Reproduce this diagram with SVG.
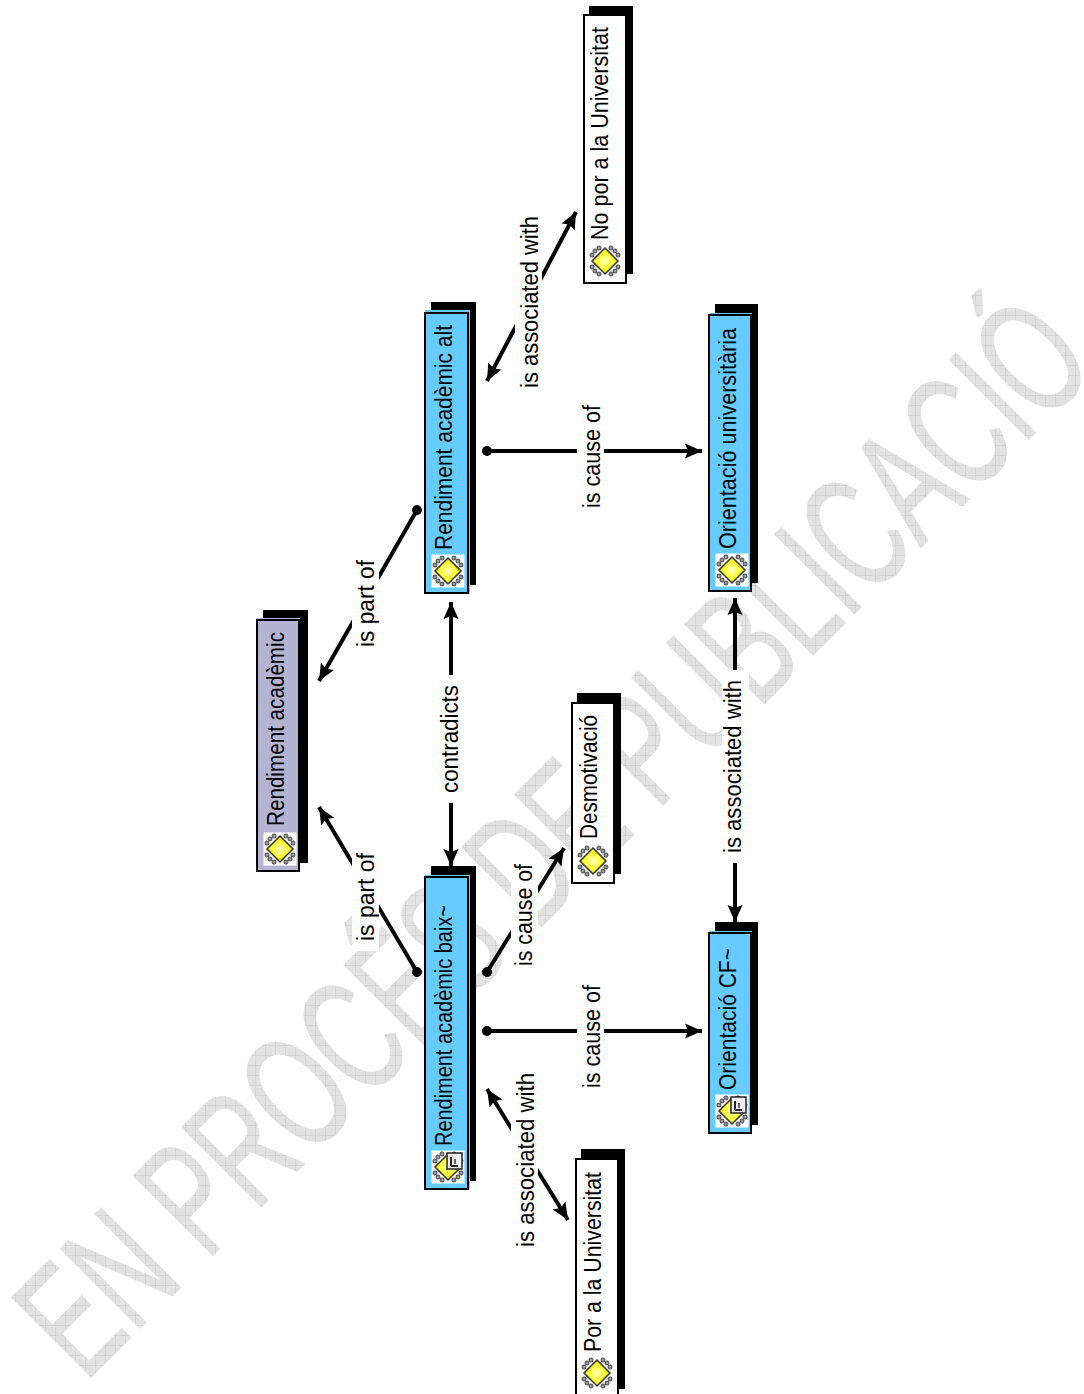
<svg xmlns="http://www.w3.org/2000/svg" width="1084" height="1394" viewBox="0 0 1084 1394">
<style>
text{font-family:"Liberation Sans",Arial,sans-serif}
.t{font-size:23px;fill:#000}
.l{font-size:23px;fill:#000}
.c{stroke:#000;stroke-width:4;fill:none}
.s{fill:#000}
.b{stroke:#000;stroke-width:2}
</style>
<defs>
<pattern id="gr" width="10" height="10" patternUnits="userSpaceOnUse" patternTransform="rotate(45) translate(-90 -1378)"><rect width="10" height="10" fill="#e2e2e2"/><path d="M0 0H10M0 0V10" stroke="#c8c8c8" stroke-width="1"/></pattern>
<radialGradient id="yl"><stop offset="0" stop-color="#ffffc0"/><stop offset="0.6" stop-color="#ffff30"/><stop offset="1" stop-color="#e4e410"/></radialGradient>
<marker id="a" markerWidth="20" markerHeight="18" refX="17" refY="9" orient="auto-start-reverse" markerUnits="userSpaceOnUse"><path d="M0 1.500L17 9L0 16.500L3 9Z" fill="#000"/></marker>
<marker id="d" markerWidth="10" markerHeight="10" refX="5" refY="5" orient="auto" markerUnits="userSpaceOnUse"><circle cx="5" cy="5" r="5" fill="#000"/></marker>
<g id="ic"><rect x="-16.500" y="-16.500" width="33" height="33" fill="#fff"/><g fill="#999" stroke="#444" stroke-width="1"><circle cx="-13" cy="-6" r="2"/><circle cx="-10" cy="-10" r="2"/><circle cx="-6" cy="-13" r="2"/><circle cx="13" cy="-6" r="2"/><circle cx="10" cy="-10" r="2"/><circle cx="6" cy="-13" r="2"/><circle cx="-13" cy="6" r="2"/><circle cx="-10" cy="10" r="2"/><circle cx="-6" cy="13" r="2"/><circle cx="13" cy="6" r="2"/><circle cx="10" cy="10" r="2"/><circle cx="6" cy="13" r="2"/></g><path d="M0 -13L13 0L0 13L-13 0Z" fill="url(#yl)" stroke="#333" stroke-width="1.500"/></g>
<g id="ic2"><use href="#ic"/><rect x="-1" y="-14" width="15" height="16" fill="#eee" stroke="#222" stroke-width="1.500"/><path d="M3 -1V-10M3 -1H10" stroke="#222" stroke-width="2" fill="none"/><path d="M7 -3V-8" stroke="#666" stroke-width="2"/></g>
</defs>
<text id="watermark" transform="translate(85 1383) rotate(-45)" font-size="163" textLength="1434" lengthAdjust="spacingAndGlyphs" fill="url(#gr)" stroke="url(#gr)" stroke-width="1.5">EN PROCÉS DE PUBLICACIÓ</text>
<g id="connectors">
<line class="c" x1="417" y1="510" x2="319" y2="681" marker-start="url(#d)" marker-end="url(#a)"/>
<line class="c" x1="417" y1="972" x2="319" y2="807" marker-start="url(#d)" marker-end="url(#a)"/>
<line class="c" x1="451" y1="602" x2="451" y2="866" marker-start="url(#a)" marker-end="url(#a)"/>
<line class="c" x1="487" y1="451" x2="702" y2="451" marker-start="url(#d)" marker-end="url(#a)"/>
<line class="c" x1="487" y1="1031" x2="702" y2="1031" marker-start="url(#d)" marker-end="url(#a)"/>
<line class="c" x1="487" y1="381" x2="576" y2="212" marker-start="url(#a)" marker-end="url(#a)"/>
<line class="c" x1="487" y1="972" x2="564" y2="848" marker-start="url(#d)" marker-end="url(#a)"/>
<line class="c" x1="487" y1="1089" x2="568" y2="1220" marker-start="url(#a)" marker-end="url(#a)"/>
<line class="c" x1="735" y1="598" x2="735" y2="922" marker-start="url(#a)" marker-end="url(#a)"/>
</g>
<g id="labels">
<g fill="#fff"><rect x="352" y="550" width="27" height="107"/><rect x="352" y="843" width="27" height="108"/><rect x="438" y="675" width="27" height="128"/><rect x="577" y="395" width="27" height="123"/><rect x="577" y="975" width="27" height="123"/><rect x="515" y="206" width="27" height="192"/><rect x="511" y="854" width="27" height="122"/><rect x="511" y="1063" width="27" height="194"/><rect x="722" y="670" width="27" height="193"/></g>
<text class="l" textLength="87" lengthAdjust="spacingAndGlyphs" transform="translate(374 647) rotate(-90)">is part of</text>
<text class="l" textLength="88" lengthAdjust="spacingAndGlyphs" transform="translate(374 941) rotate(-90)">is part of</text>
<text class="l" textLength="108" lengthAdjust="spacingAndGlyphs" transform="translate(458 793) rotate(-90)">contradicts</text>
<text class="l" textLength="103" lengthAdjust="spacingAndGlyphs" transform="translate(600 508) rotate(-90)">is cause of</text>
<text class="l" textLength="103" lengthAdjust="spacingAndGlyphs" transform="translate(600 1088) rotate(-90)">is cause of</text>
<text class="l" textLength="172" lengthAdjust="spacingAndGlyphs" transform="translate(538 388) rotate(-90)">is associated with</text>
<text class="l" textLength="102" lengthAdjust="spacingAndGlyphs" transform="translate(532 966) rotate(-90)">is cause of</text>
<text class="l" textLength="174" lengthAdjust="spacingAndGlyphs" transform="translate(534 1247) rotate(-90)">is associated with</text>
<text class="l" textLength="173" lengthAdjust="spacingAndGlyphs" transform="translate(741 853) rotate(-90)">is associated with</text>
</g>
<g id="n1"><rect class="s" x="263" y="610" width="45" height="253"/><rect x="257" y="618" width="43" height="254" fill="#b4b4d2"/><rect x="257" y="620" width="42" height="251" fill="none" class="b"/><use href="#ic" x="280" y="849"/><text class="t" textLength="194" lengthAdjust="spacingAndGlyphs" transform="translate(284 826) rotate(-90)">Rendiment acadèmic</text></g>
<g id="n2"><rect class="s" x="431" y="302" width="45" height="283"/><rect x="425" y="310" width="45" height="284" fill="#66ccff"/><rect x="425" y="313" width="43" height="280" fill="none" class="b"/><use href="#ic" x="448" y="571"/><text class="t" textLength="225" lengthAdjust="spacingAndGlyphs" transform="translate(452 550) rotate(-90)">Rendiment acadèmic alt</text></g>
<g id="n3"><rect class="s" x="431" y="866" width="45" height="315"/><rect x="425" y="875" width="45" height="315" fill="#66ccff"/><rect x="425" y="877" width="43" height="312" fill="none" class="b"/><use href="#ic2" x="448" y="1167"/><text class="t" textLength="241" lengthAdjust="spacingAndGlyphs" transform="translate(452 1146) rotate(-90)">Rendiment acadèmic baix~</text></g>
<g id="n4"><rect class="s" x="715" y="304" width="43" height="279"/><rect x="709" y="313" width="43" height="279" fill="#66ccff"/><rect x="709" y="315" width="42" height="276" fill="none" class="b"/><use href="#ic" x="732" y="570"/><text class="t" textLength="221" lengthAdjust="spacingAndGlyphs" transform="translate(736 549) rotate(-90)">Orientació universitària</text></g>
<g id="n5"><rect class="s" x="715" y="922" width="43" height="203"/><rect x="709" y="931" width="43" height="203" fill="#66ccff"/><rect x="709" y="933" width="42" height="200" fill="none" class="b"/><use href="#ic2" x="732" y="1111"/><text class="t" textLength="142" lengthAdjust="spacingAndGlyphs" transform="translate(736 1090) rotate(-90)">Orientació CF~</text></g>
<g id="n6"><rect class="s" x="589" y="6" width="44" height="268"/><rect x="584" y="15" width="42" height="268" fill="#fff" class="b"/><use href="#ic" x="605" y="261"/><text class="t" textLength="213" lengthAdjust="spacingAndGlyphs" transform="translate(608 240) rotate(-90)">No por a la Universitat</text></g>
<g id="n7"><rect class="s" x="577" y="693" width="44" height="181"/><rect x="572" y="703" width="42" height="180" fill="#fff" class="b"/><use href="#ic" x="593" y="861"/><text class="t" textLength="124" lengthAdjust="spacingAndGlyphs" transform="translate(597 839) rotate(-90)">Desmotivació</text></g>
<g id="n8"><rect class="s" x="581" y="1149" width="44" height="240"/><rect x="576" y="1159" width="42" height="240" fill="#fff" class="b"/><use href="#ic" x="597" y="1373"/><text class="t" textLength="180" lengthAdjust="spacingAndGlyphs" transform="translate(601 1352) rotate(-90)">Por a la Universitat</text></g>
</svg>
